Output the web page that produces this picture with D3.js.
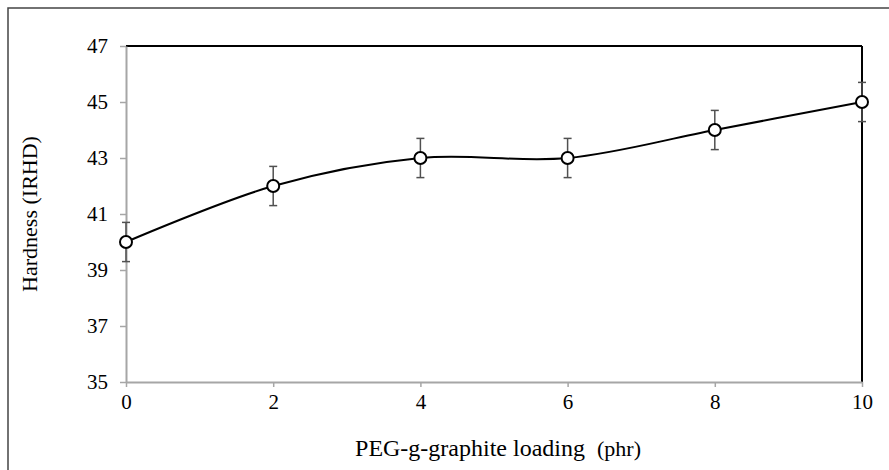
<!DOCTYPE html>
<html>
<head>
<meta charset="utf-8">
<script src="https://cdn.jsdelivr.net/npm/d3@7"></script>
<style>
  body { margin: 0; background: #fff; }
  text { font-family: "Liberation Serif", "Times New Roman", serif; fill: #000; }
</style>
</head>
<body>
<script>
// values
var loading = [0, 2, 4, 6, 8, 10];
var hardness = [40, 42, 43, 43, 44, 45];
var errHardness = [0.7, 0.7, 0.7, 0.7, 0.7, 0.7];
var xTicks = [0, 2, 4, 6, 8, 10];
var yTicks = [35, 37, 39, 41, 43, 45, 47];

var W = 889, H = 470;
var mLeft = 126, mRight = 862, mTop = 46, mBottom = 382;

var svg = d3.select('body').append('svg').attr('width', W).attr('height', H);

// outer frame (only top/left edges show)
svg.append('rect')
    .attr('x', 8).attr('y', 8)
    .attr('width', W).attr('height', H)
    .attr('fill', 'none')
    .attr('stroke', '#444')
    .attr('stroke-width', 1.5);

var x = d3.scaleLinear().domain([0, 10]).range([mLeft, mRight]);
var y = d3.scaleLinear().domain([35, 47]).range([mBottom, mTop]);

// black top and right lines
svg.append('line')
    .attr('x1', x(0)).attr('x2', x(10))
    .attr('y1', y(47)).attr('y2', y(47))
    .attr('stroke', '#000').attr('stroke-width', 2);
svg.append('line')
    .attr('x1', x(10)).attr('x2', x(10))
    .attr('y1', y(47)).attr('y2', y(35))
    .attr('stroke', '#000').attr('stroke-width', 2);

var xAxis = svg.append('g')
    .attr('transform', 'translate(0,' + mBottom + ')')
    .call(d3.axisBottom(x).tickValues(xTicks).tickSize(5).tickSizeOuter(0).tickPadding(7));
var yAxis = svg.append('g')
    .attr('transform', 'translate(' + mLeft + ',0)')
    .call(d3.axisLeft(y).tickValues(yTicks).tickSize(6).tickSizeOuter(0).tickPadding(12));

[xAxis, yAxis].forEach(function(g) {
    g.select('.domain').attr('stroke', '#a6a6a6').attr('stroke-width', 2);
    g.selectAll('.tick line').attr('stroke', '#a6a6a6').attr('stroke-width', 1.5);
    g.selectAll('.tick text')
        .style('font-family', '"Liberation Serif", serif')
        .style('font-size', '21px')
        .attr('fill', '#000');
});

// axis titles
var xt = svg.append('text')
    .attr('x', (mLeft + mRight) / 2 + 4)
    .attr('y', 456)
    .attr('text-anchor', 'middle')
    .attr('xml:space', 'preserve')
    .style('font-size', '24px');
xt.append('tspan').text('PEG-g-graphite loading  ');
xt.append('tspan').style('font-size', '22px').text('(phr)');

svg.append('text')
    .attr('transform', 'translate(37,' + (mTop + mBottom) / 2 + ') rotate(-90)')
    .attr('text-anchor', 'middle')
    .style('font-size', '22px')
    .text('Hardness (IRHD)');

var pts = loading.map(function(d, i) {
    return { x: d, y: hardness[i], e: errHardness[i] };
});

// error bars
var eb = svg.append('g').attr('stroke', '#505050').attr('stroke-width', 1.5);
eb.selectAll('line.v')
    .data(pts)
    .enter()
    .append('line')
    .attr('x1', function(d) { return x(d.x); })
    .attr('x2', function(d) { return x(d.x); })
    .attr('y1', function(d) { return y(d.y - d.e); })
    .attr('y2', function(d) { return y(d.y + d.e); });
[-1, 1].forEach(function(s) {
    eb.selectAll(null)
        .data(pts)
        .enter()
        .append('line')
        .attr('x1', function(d) { return x(d.x) - 4; })
        .attr('x2', function(d) { return x(d.x) + 4; })
        .attr('y1', function(d) { return y(d.y + s * d.e); })
        .attr('y2', function(d) { return y(d.y + s * d.e); });
});

// smoothed line
var line = d3.line()
    .x(function(d) { return x(d.x); })
    .y(function(d) { return y(d.y); })
    .curve(d3.curveCardinal.tension(0));
svg.append('path')
    .datum(pts)
    .attr('d', line)
    .attr('fill', 'none')
    .attr('stroke', '#000')
    .attr('stroke-width', 2);

svg.selectAll('circle')
    .data(pts)
    .enter()
    .append('circle')
    .attr('cx', function(d) { return x(d.x); })
    .attr('cy', function(d) { return y(d.y); })
    .attr('r', 6)
    .attr('fill', '#fff')
    .attr('stroke', '#000')
    .attr('stroke-width', 2);
</script>
</body>
</html>
